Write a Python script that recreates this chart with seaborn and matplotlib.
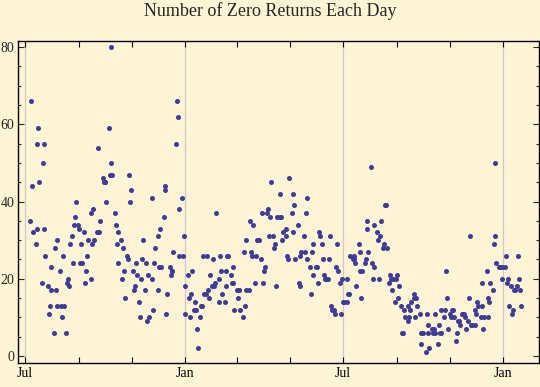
import numpy as np
import pandas as pd
import matplotlib
matplotlib.use("Agg")
import matplotlib.pyplot as plt
import matplotlib.dates as mdates
import matplotlib.ticker as mticker
import seaborn as sns

# ---- data ----
start_date = "2009-07-07"
zero_returns = [
    # Jul - Sep 2009
    35, 66, 44, 32, 29, 33, 55, 59, 45, 19, 50, 33, 55, 26, 18, 11, 13, 23, 17, 6,
    28, 17, 13, 30, 22, 13, 10, 26, 13, 6, 19, 20, 18, 29, 31, 24, 34, 36, 40, 34,
    33, 24, 29, 24, 32, 19, 22, 26, 30, 20, 37,
    # Sep - Nov 2009
    29, 38, 30, 32, 54, 32, 32, 35, 46, 45, 45, 45, 40, 59, 47, 80, 50, 47, 37, 34,
    29, 24, 32, 30, 20, 28, 22, 15, 26, 25, 47, 40, 43, 22, 17, 18, 24, 21, 14, 10,
    20, 25, 30, 17, 24, 9, 21, 10, 41, 20, 12, 24,
    # Nov 2009 - Jan 2010
    28, 17, 31, 23, 33, 23, 36, 43, 44, 11, 16, 23, 21, 22, 22, 27, 55, 66, 62, 26,
    38, 41, 26, 31, 18, 11, 21, 15, 10, 16, 22, 12, 14, 12, 7, 2, 10, 13, 13, 26,
    16, 16, 26, 17, 15, 21, 18, 25,
    # Feb - Apr 2010
    18, 19, 37, 14, 20, 26, 22, 16, 14, 18, 22, 26, 26, 21, 19, 23, 19, 12, 17, 15,
    17, 17, 12, 10, 27, 13, 17, 30, 17, 35, 27, 26, 34, 19, 26, 30, 30, 30, 25, 37,
    19, 22, 23, 37, 38, 31, 36, 45, 31, 28, 29, 18,
    # Apr - Jun 2010
    36, 36, 42, 36, 30, 32, 31, 33, 26, 25, 46, 37, 32, 42, 39, 25, 34, 19, 18, 26,
    27, 31, 27, 37, 41, 25, 23, 16, 27, 29, 21, 23, 23, 19, 32, 31, 29, 25, 21, 20,
    20, 20, 25, 31, 13, 12, 12, 11, 23, 29, 22, 19, 11,
    # Jul - Sep 2010
    20, 14, 14, 14, 20, 16, 16, 26, 25, 26, 25, 24, 18, 29, 27, 22, 15, 22, 24, 25,
    33, 35, 27, 49, 24, 20, 34, 23, 32, 30, 20, 31, 35, 28, 29, 39, 39, 28, 19, 21,
    20, 17, 20, 14, 20, 21, 15, 18, 13, 6, 6, 12, 10, 9,
    # Sep - Nov 2010
    13, 10, 12, 14, 15, 16, 10, 15, 13, 11, 6, 3, 6, 6, 1, 11, 8, 6, 2, 7,
    6, 7, 6, 11, 3, 8, 6, 6, 12, 10, 12, 22, 15, 7, 11, 10, 12, 12, 10, 4,
    6, 9, 9, 8, 11, 11, 11, 10, 7, 9, 15, 31, 8, 8, 12, 8, 11, 14,
    # Dec 2010 - Jan 2011
    13, 10, 13, 19, 7, 10, 22, 10, 15, 14, 19, 17, 29, 50, 31, 24, 23, 23, 23, 23,
    20, 23, 26, 19, 20, 13, 18, 11, 12, 17, 17, 18, 26, 20, 17, 13,
]
dates = pd.bdate_range(start=start_date, periods=len(zero_returns))
df = pd.DataFrame({"date": dates, "count": zero_returns})

title = "Number of Zero Returns Each Day"
x_range = ("2009-06-23", "2011-02-11")
y_range = (-1.9, 81.6)
label_months = [1, 7]
other_tick_months = [3, 5, 9, 11]

# ---- style ----
sns.set_style("ticks")
plt.rcParams["font.family"] = ["Liberation Serif", "DejaVu Serif"]

bg = "#fff4d6"
pt_color = "#3d3d99"
grid_color = "#cbcbcb"

fig = plt.figure(figsize=(5.4, 3.87), dpi=100, facecolor=bg)
ax = fig.add_axes([18.3 / 540, 1 - 363.3 / 387, (539 - 18.3) / 540, (363.3 - 41) / 387])
ax.set_facecolor(bg)

sns.scatterplot(data=df, x="date", y="count", ax=ax, color=pt_color,
                s=13, linewidth=0, legend=False, zorder=3)

ax.set_xlim(pd.Timestamp(x_range[0]), pd.Timestamp(x_range[1]))
ax.set_ylim(*y_range)
ax.set_xlabel("")
ax.set_ylabel("")

ax.xaxis.set_major_locator(mdates.MonthLocator(bymonth=label_months))
ax.xaxis.set_major_formatter(mdates.DateFormatter("%b"))
ax.xaxis.set_minor_locator(mdates.MonthLocator(bymonth=other_tick_months))
ax.yaxis.set_major_locator(mticker.MultipleLocator(20))
ax.yaxis.set_minor_locator(mticker.MultipleLocator(5))

ax.tick_params(axis="x", which="both", direction="in", length=4.5, width=0.8,
               top=True, bottom=True, labelsize=10, pad=3, colors="black")
ax.tick_params(axis="y", which="major", direction="in", length=4.5, width=0.8,
               left=True, right=True, labelsize=10, pad=3)
ax.tick_params(axis="y", which="minor", direction="in", length=2.5, width=0.8,
               left=True, right=True)

ax.grid(True, axis="x", which="major", color=grid_color, linewidth=0.9)
ax.grid(False, axis="y")
ax.set_axisbelow(True)

for sp in ax.spines.values():
    sp.set_visible(True)
    sp.set_color("black")
    sp.set_linewidth(1.0)

fig.text(0.5, 1 - 11 / 387, title, ha="center", va="center", fontsize=13)

fig.savefig("out.png", dpi=100, facecolor=bg)
